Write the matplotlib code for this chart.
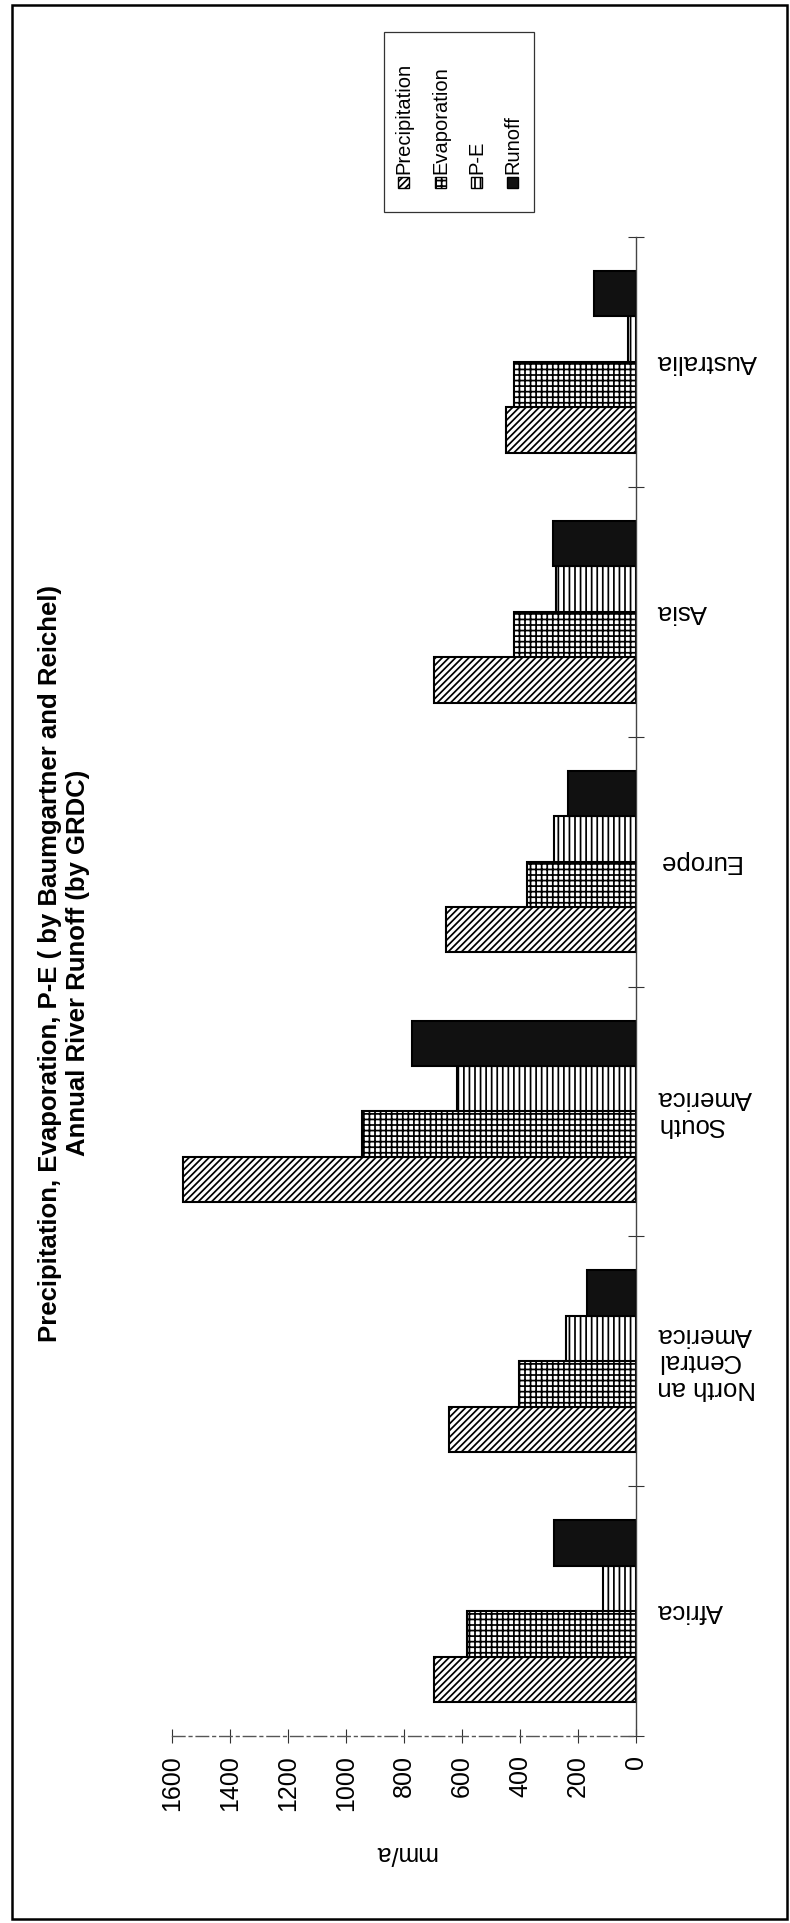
import matplotlib
matplotlib.use("Agg")
import matplotlib.pyplot as plt
from matplotlib.patches import Rectangle
import numpy as np

plt.rcParams['font.family'] = ['Liberation Sans', 'DejaVu Sans']
plt.rcParams['hatch.linewidth'] = 1.25

# ---- data ----
categories = ["Africa", "North an\nCentral\nAmerica", "South\nAmerica", "Europe", "Asia", "Australia"]
series = ["Precipitation", "Evaporation", "P-E", "Runoff"]
precipitation = [696, 645, 1564, 657, 696, 447]
evaporation = [582, 403, 946, 375, 420, 420]
p_minus_e = [114, 242, 618, 282, 276, 27]
runoff = [283, 170, 774, 235, 285, 145]
value_ticks = [0, 200, 400, 600, 800, 1000, 1200, 1400, 1600]
title_text = "Precipitation, Evaporation, P-E ( by Baumgartner and Reichel)\nAnnual River Runoff (by GRDC)"
unit_label = "mm/a"

W, H = 790, 1923
def fx(x):
    return x / W
def fy(y):
    return 1 - y / H

fig = plt.figure(figsize=(W / 100, H / 100), dpi=100)
ax_left, ax_right, ax_top, ax_bot = 172.3, 636.0, 237.0, 1736.0
ax = fig.add_axes([fx(ax_left), fy(ax_bot), (ax_right - ax_left) / W, (ax_bot - ax_top) / H])

styles = [
    dict(facecolor="white", hatch="/////"),
    dict(facecolor="white", hatch="+++"),
    dict(facecolor="white", hatch="|||"),
    dict(facecolor="#111111", hatch=None),
]
w = 0.1818
y = np.arange(len(categories))
for j, (vals, st) in enumerate(zip([precipitation, evaporation, p_minus_e, runoff], styles)):
    ax.barh(y + (j - 1.5) * w, vals, height=w, edgecolor="black", linewidth=1.5,
            label=series[j], **st)

ax.set_xlim(1600, 0)
ax.set_ylim(-0.5, len(categories) - 0.5)
for s in ["top", "left"]:
    ax.spines[s].set_visible(False)
ax.spines["right"].set_color("#444444")
ax.spines["right"].set_linewidth(1.0)
ax.spines["bottom"].set_color("#555555")
ax.spines["bottom"].set_linewidth(1.0)
ax.spines["bottom"].set_linestyle((0, (9, 3, 2, 3)))

ax.set_xticks(value_ticks)
ax.set_xticklabels([str(v) for v in value_ticks])
ax.tick_params(axis="x", direction="inout", length=9.5, width=0.8, color="#333333",
               labelsize=18, labelrotation=90, pad=9)

ax.yaxis.tick_right()
ax.set_yticks(np.arange(-0.5, len(categories), 1.0))
ax.set_yticklabels([])
ax.tick_params(axis="y", which="major", direction="inout", length=11, width=0.8,
               color="#333333", right=True, left=False)

label_x = (657 - ax_left) / (ax_right - ax_left)
for i, cat in enumerate(categories):
    ax.text(label_x, i, cat, transform=ax.get_yaxis_transform(), rotation=180,
            ha="left", va="center", multialignment="right", fontsize=18.5, linespacing=1.12)

# title
fig.text(fx(64), fy(963), title_text, rotation=90, ha="center", va="center",
         fontsize=18.5, fontweight="bold", linespacing=1.25, multialignment="center")

# unit label
fig.text(fx(405), fy(1853), unit_label, rotation=180, ha="center", va="center", fontsize=18)

# legend (drawn rotated like the rest)
fig.patches.append(Rectangle((fx(384), fy(212)), 150 / W, 180 / H, transform=fig.transFigure,
                             facecolor="white", edgecolor="#333333", linewidth=0.9))
col_x = [404, 441, 477, 513]
for cx, name, st in zip(col_x, series, styles):
    fig.patches.append(Rectangle((fx(cx - 6), fy(188)), 11 / W, 11 / H, transform=fig.transFigure,
                                 edgecolor="black", linewidth=1.0, **st))
    fig.text(fx(cx), fy(174), name, rotation=90, ha="center", va="bottom", fontsize=14.5)

# outer border
fig.patches.append(Rectangle((fx(12), fy(1919)), (787 - 12) / W, (1919 - 5) / H,
                             transform=fig.transFigure, fill=False, edgecolor="black", linewidth=1.8))

fig.savefig("out.png", dpi=100)
